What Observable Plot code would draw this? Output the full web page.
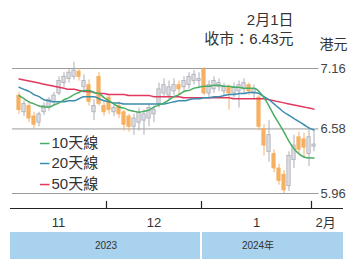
<!DOCTYPE html>
<html><head><meta charset="utf-8">
<script src="https://cdn.jsdelivr.net/npm/d3@7"></script>
<script src="https://cdn.jsdelivr.net/npm/@observablehq/plot@0.6"></script>
<style>body{margin:0;background:#fff;overflow:hidden} #c{width:348px;height:259px}</style>
</head><body><div id="c"></div>
<script>
const dates = ["2023-11-07","2023-11-08","2023-11-09","2023-11-10","2023-11-13","2023-11-14","2023-11-15","2023-11-16","2023-11-17","2023-11-20","2023-11-21","2023-11-22","2023-11-23","2023-11-24","2023-11-27","2023-11-28","2023-11-29","2023-11-30",
"2023-12-01","2023-12-04","2023-12-05","2023-12-06","2023-12-07","2023-12-08","2023-12-11","2023-12-12","2023-12-13","2023-12-14","2023-12-15","2023-12-18","2023-12-19","2023-12-20","2023-12-21","2023-12-22","2023-12-27","2023-12-28","2023-12-29",
"2024-01-02","2024-01-03","2024-01-04","2024-01-05","2024-01-08","2024-01-09","2024-01-10","2024-01-11","2024-01-12","2024-01-15","2024-01-16","2024-01-17","2024-01-18","2024-01-19","2024-01-22","2024-01-23","2024-01-24","2024-01-25","2024-01-26","2024-01-29","2024-01-30","2024-01-31",
"2024-02-01"];
const open  = [6.90,6.74,6.80,6.70,6.64,6.74,6.78,6.84,6.92,7.02,7.06,7.08,7.13,6.98,7.00,6.74,7.08,6.80,
 6.88,6.74,6.80,6.74,6.70,6.60,6.64,6.66,6.68,6.72,6.82,6.92,6.90,6.94,7.00,6.98,7.00,7.04,7.04,
 7.15,6.92,6.96,6.98,6.94,6.98,6.92,6.94,6.96,7.00,6.92,6.88,6.58,6.36,6.34,6.20,6.14,6.03,6.28,6.50,6.48,6.34,6.41];
const close = [6.76,6.82,6.68,6.62,6.72,6.80,6.86,6.90,7.04,7.08,7.12,7.14,7.08,7.04,6.84,6.80,6.82,6.74,
 6.76,6.78,6.72,6.62,6.60,6.68,6.74,6.72,6.78,6.76,6.96,7.00,6.98,7.00,6.96,7.04,7.08,7.10,7.06,
 6.92,7.00,7.04,7.02,6.98,6.92,6.98,7.00,7.02,6.94,6.96,6.60,6.42,6.52,6.20,6.08,5.99,6.32,6.42,6.38,6.40,6.50,6.43];
const high  = [6.93,6.85,6.83,6.74,6.74,6.83,6.88,6.93,7.08,7.12,7.15,7.22,7.16,7.10,7.05,6.86,7.12,6.84,
 6.90,6.82,6.84,6.76,6.72,6.72,6.78,6.76,6.82,6.80,7.02,7.06,7.04,7.06,7.04,7.08,7.12,7.14,7.12,
 7.17,7.04,7.08,7.06,7.02,7.00,7.02,7.04,7.06,7.02,7.00,6.90,6.62,6.66,6.38,6.24,6.18,6.36,6.52,6.55,6.54,6.58,6.56];
const low   = [6.72,6.70,6.64,6.58,6.60,6.71,6.75,6.80,6.90,6.98,7.02,7.05,7.04,6.94,6.80,6.66,6.80,6.70,
 6.72,6.70,6.68,6.56,6.55,6.52,6.56,6.52,6.60,6.64,6.78,6.88,6.86,6.90,6.90,6.94,6.96,7.00,6.98,
 6.90,6.88,6.92,6.94,6.90,6.76,6.88,6.78,6.92,6.90,6.86,6.56,6.32,6.26,6.16,6.04,5.96,5.98,6.20,6.34,6.30,6.22,6.36];
const ma10 = [6.90,6.87,6.84,6.82,6.80,6.79,6.79,6.81,6.83,6.86,6.88,6.91,6.93,6.95,6.95,6.93,6.92,6.88,
 6.85,6.82,6.79,6.78,6.76,6.75,6.74,6.75,6.76,6.79,6.81,6.83,6.86,6.89,6.91,6.94,6.95,6.97,6.98,
 6.99,6.99,7.00,7.00,6.99,6.99,6.98,6.98,6.97,6.97,6.97,6.94,6.88,6.80,6.71,6.63,6.55,6.46,6.39,6.34,6.31,6.30,6.30];
const ma20 = [6.98,6.96,6.94,6.91,6.89,6.86,6.85,6.84,6.84,6.84,6.85,6.85,6.87,6.89,6.89,6.89,6.87,6.85,
 6.84,6.83,6.83,6.82,6.82,6.82,6.82,6.82,6.82,6.82,6.82,6.82,6.83,6.84,6.85,6.85,6.86,6.87,6.87,
 6.88,6.88,6.89,6.89,6.90,6.91,6.91,6.92,6.92,6.93,6.93,6.92,6.89,6.86,6.82,6.78,6.74,6.71,6.68,6.65,6.62,6.59,6.57];
const ma50 = [7.06,7.05,7.04,7.03,7.02,7.01,7.00,6.99,6.98,6.97,6.96,6.96,6.95,6.94,6.94,6.93,6.92,6.92,
 6.91,6.91,6.91,6.91,6.90,6.90,6.90,6.90,6.90,6.89,6.89,6.89,6.89,6.89,6.89,6.88,6.88,6.88,6.88,
 6.88,6.88,6.88,6.88,6.88,6.88,6.87,6.87,6.87,6.87,6.87,6.87,6.87,6.86,6.85,6.84,6.83,6.82,6.81,6.80,6.79,6.78,6.77];
const gridTicks = [7.16, 6.58, 5.96];
const monthNames = {"11":"11","12":"12","01":"1","02":"2月"};
const yearNames = {"2023":"2023","2024":"2024年"};
const legendNames = ["10天線","20天線","50天線"];
const lineColors = ["#47ad63","#3a8cb0","#e0385f"];

const FONT = "'Liberation Sans','Noto Sans CJK TC',sans-serif";
const candles = dates.map((d,i)=>({i, date:d, open:open[i], close:close[i], high:high[i], low:low[i], up: close[i] >= open[i]}));
const yMin = 5.816, yMax = 7.285, axL = -1.7, axR = 64.9;

const bounds = [];
for (let i=1;i<dates.length;i++) if (dates[i].slice(5,7)!==dates[i-1].slice(5,7)) bounds.push(i-0.5);
const edges = [axL, ...bounds];
const months = [];
dates.forEach((d,i)=>{const m=d.slice(5,7); if(!months.length||months[months.length-1].m!==m) months.push({m, first:i});});
months.forEach((o,k)=>{ o.label = monthNames[o.m]; o.last = k===months.length-1; o.x = o.last ? edges[k] + 0.8 : (edges[k]+edges[k+1])/2; });
const midMonths = months.filter(o=>!o.last), lastMonth = months.filter(o=>o.last);
const yb = bounds.find(b=>dates[Math.ceil(b)].slice(0,4)!==dates[Math.floor(b)].slice(0,4));
const years = [{label:yearNames["2023"], x1:axL, x2:yb-0.2, cx:(axL+yb)/2},{label:yearNames["2024"], x1:yb+0.2, x2:axR, cx:yb+11.3}];
const legend = legendNames.map((t,k)=>({t, c:lineColors[k], y:[6.44,6.248,6.046][k]}));
const last = dates.length-1;
const titleDate = `${+dates[last].slice(5,7)}月${+dates[last].slice(8,10)}日`;

const chart = Plot.plot({
  width:348, height:259,
  marginTop:55, marginBottom:51, marginLeft:11, marginRight:24.5,
  x:{domain:[-1.5,61], axis:null},
  y:{domain:[yMin,yMax], axis:null},
  style:{fontFamily:FONT, background:"transparent", overflow:"visible"},
  marks:[
    Plot.ruleY(gridTicks,{y:d=>d, x1:-1.3, x2:60, stroke:"#9b9b9b", strokeWidth:1}),
    Plot.text(gridTicks,{y:d=>d, x:60, text:d=>d.toFixed(2), textAnchor:"start", dx:1.5, fontSize:13, fill:"#444"}),
    Plot.ruleX(candles,{x:"i", y1:"low", y2:"high", stroke:d=>d.up?"#acacb6":"#f4b067", strokeWidth:1}),
    Plot.rect(candles,{x1:d=>d.i-0.33, x2:d=>d.i+0.33, y1:"open", y2:"close", fill:d=>d.up?"#dcdce3":"#f6b062", stroke:d=>d.up?"#acacb6":"#f6b062", strokeWidth:0.8}),
    Plot.line(candles,{x:"i", y:d=>ma50[d.i], stroke:lineColors[2], strokeWidth:1.5, curve:"monotone-x"}),
    Plot.line(candles,{x:"i", y:d=>ma20[d.i], stroke:lineColors[1], strokeWidth:1.5, curve:"monotone-x"}),
    Plot.line(candles,{x:"i", y:d=>ma10[d.i], stroke:lineColors[0], strokeWidth:1.5, curve:"monotone-x"}),
    Plot.ruleY(legend,{y:"y", x1:4.3, x2:6.2, stroke:"c", strokeWidth:1.5}),
    Plot.text(legend,{y:"y", x:6.5, text:"t", textAnchor:"start", fontSize:15, fill:"#333"}),
    Plot.ruleY([yMin],{x1:axL, x2:axR, stroke:"#222", strokeWidth:1.2}),
    Plot.ruleX(bounds,{x:d=>d, y1:yMin, y2:yMin+0.068, stroke:"#222", strokeWidth:1.2}),
    Plot.text(midMonths,{x:"x", y:yMin, dy:14, text:"label", textAnchor:"middle", fontSize:13, fill:"#333"}),
    Plot.text(lastMonth,{x:"x", y:yMin, dy:14, text:"label", textAnchor:"start", fontSize:13, fill:"#333"}),
    Plot.rect(years,{x1:"x1", x2:"x2", y1:5.5856, y2:5.30, fill:"#a9d2ef"}),
    Plot.text(years,{x:"cx", y:5.46, text:"label", fontSize:10, fill:"#333"}),
    Plot.text([titleDate],{x:54.9, y:7.621, text:d=>d, textAnchor:"end", fontSize:15, fill:"#333"}),
    Plot.text([`收市：${close[last].toFixed(2)}元`],{x:54.9, y:7.439, text:d=>d, textAnchor:"end", fontSize:15, fill:"#333"}),
    Plot.text(["港元"],{x:60.1, y:7.391, text:d=>d, textAnchor:"start", fontSize:14, fill:"#333"})
  ]
});
document.getElementById("c").appendChild(chart);
</script>
</body></html>
